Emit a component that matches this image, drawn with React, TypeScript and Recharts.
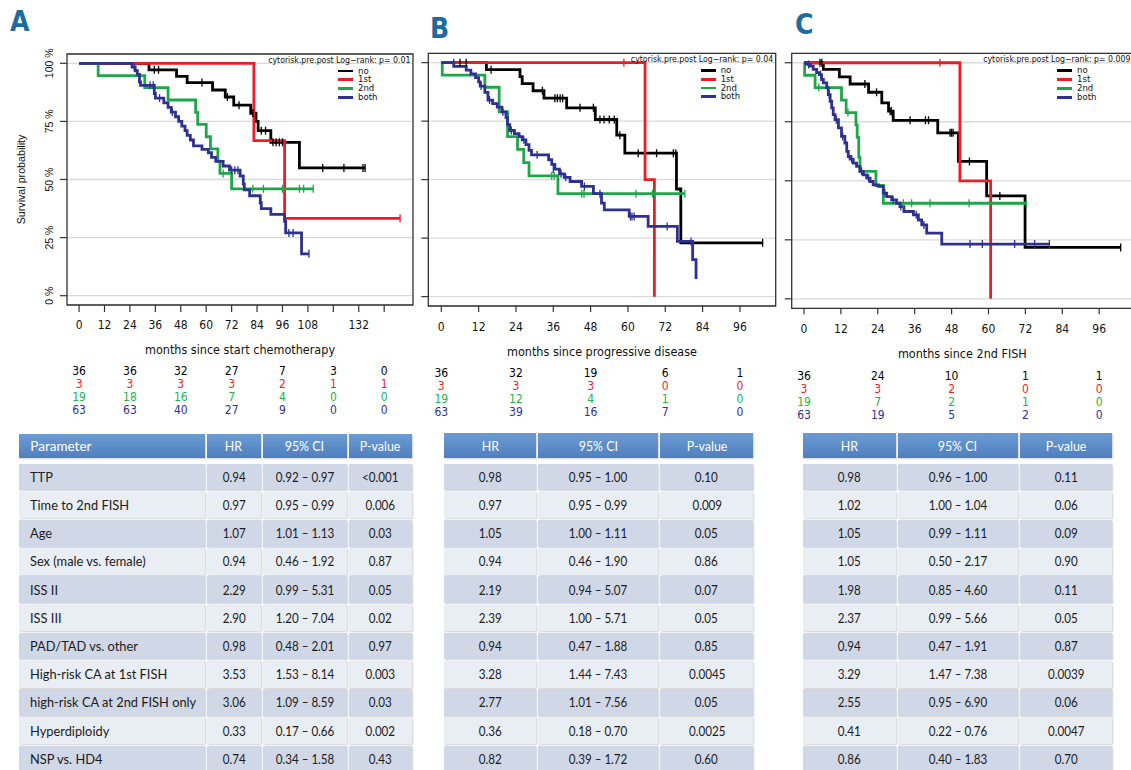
import React from "react";
import {
  ComposedChart,
  Line,
  Scatter,
  XAxis,
  YAxis,
  CartesianGrid,
  ReferenceArea,
  Legend,
} from "recharts";

const NARROW = "'Liberation Sans Narrow', 'Arial Narrow', 'DejaVu Sans Condensed', sans-serif";
const SANS = "'Liberation Sans', Arial, sans-serif";
const TABLE_FONT = "Lato, 'Open Sans', sans-serif";

const GROUPS = ["no", "1st", "2nd", "both"];
const LINE_COLORS = ["#000000", "#ee1d25", "#1fa64a", "#2e3192"];
const RISK_COLORS = ["#000000", "#ee1d25", "#22b24c", "#2e3192"];
const Y_TICKS = [0, 0.25, 0.5, 0.75, 1];
const Y_TICK_LABELS = ["0 %", "25 %", "50 %", "75 %", "100 %"];

// ---- panel A: months since start chemotherapy
const A_TICKS = [0, 12, 24, 36, 48, 60, 72, 84, 96, 108, 120, 132, 144];
const A_TICK_LABELS = ["0", "12", "24", "36", "48", "60", "72", "84", "96", "108", "", "132", ""];
const A_RISK_TIMES = [0, 24, 48, 72, 96, 120, 144];
const A_RISK = [
  [36, 36, 32, 27, 7, 3, 0],
  [3, 3, 3, 3, 2, 1, 1],
  [19, 18, 16, 7, 4, 0, 0],
  [63, 63, 40, 27, 9, 0, 0],
];
const A_NO = [[0, 1], [33, 0.972], [46, 0.944], [51, 0.917], [63, 0.885], [69, 0.855], [73, 0.82], [81, 0.785], [83.5, 0.75], [84.5, 0.71], [90.5, 0.66], [104, 0.55], [135, 0.55]];
const A_NO_CENS = [[35.5, 0.972], [37.5, 0.972], [58, 0.917], [70, 0.855], [75.5, 0.82], [82, 0.785], [86, 0.71], [88, 0.71], [91.5, 0.66], [93, 0.66], [94.5, 0.66], [96, 0.66], [115, 0.55], [125, 0.55], [134, 0.55], [135, 0.55]];
const A_1ST = [[0, 1], [82.5, 0.667], [97, 0.333], [151.5, 0.333]];
const A_1ST_CENS = [[151.5, 0.333]];
const A_2ND = [[0, 1], [9, 0.947], [31, 0.895], [42, 0.842], [55, 0.789], [56, 0.737], [60, 0.684], [62, 0.632], [65.5, 0.579], [66.5, 0.526], [72, 0.46], [110.5, 0.46]];
const A_2ND_CENS = [[68, 0.526], [82, 0.46], [87, 0.46], [96, 0.46], [104, 0.46], [106, 0.46], [110.5, 0.46]];
const A_BOTH = [[0, 1], [25, 0.984], [26.5, 0.968], [27.5, 0.952], [28.5, 0.92], [29, 0.905], [35.5, 0.87], [36, 0.85], [40, 0.83], [42, 0.81], [43.5, 0.79], [45.5, 0.77], [47, 0.75], [48.5, 0.73], [50, 0.71], [51, 0.69], [52.5, 0.67], [54, 0.645], [58, 0.63], [61, 0.615], [62.5, 0.595], [64.5, 0.578], [68, 0.558], [71, 0.54], [76, 0.515], [77.5, 0.48], [78, 0.455], [80.5, 0.43], [85.5, 0.4], [86, 0.375], [90.5, 0.35], [97, 0.32], [97.5, 0.27], [105, 0.18], [108.5, 0.18]];
const A_BOTH_CENS = [[26, 0.984], [33.5, 0.905], [35, 0.905], [38, 0.85], [44, 0.79], [72, 0.54], [73.5, 0.54], [75, 0.54], [99, 0.27], [101, 0.27], [108.5, 0.18]];

// ---- panel B: months since progressive disease
const B_TICKS = [0, 12, 24, 36, 48, 60, 72, 84, 96];
const B_TICK_LABELS = ["0", "12", "24", "36", "48", "60", "72", "84", "96"];
const B_RISK_TIMES = [0, 24, 48, 72, 96];
const B_RISK = [
  [36, 32, 19, 6, 1],
  [3, 3, 3, 0, 0],
  [19, 12, 4, 1, 0],
  [63, 39, 16, 7, 0],
];
const B_NO = [[0, 1], [14.5, 0.97], [25.3, 0.94], [26, 0.91], [29.5, 0.88], [33, 0.848], [40.3, 0.807], [49.5, 0.757], [56.4, 0.69], [59, 0.613], [75.6, 0.46], [77, 0.23], [103.3, 0.23]];
const B_NO_CENS = [[6, 1], [8, 1], [16, 0.97], [32.5, 0.88], [36.5, 0.848], [37.3, 0.848], [38.2, 0.848], [39, 0.848], [44.6, 0.807], [48.9, 0.807], [51, 0.757], [52.3, 0.757], [54, 0.757], [55.6, 0.757], [57.4, 0.69], [63.3, 0.613], [69.2, 0.613], [74.6, 0.613], [75.4, 0.613], [103.3, 0.23]];
const B_1ST = [[0, 1], [65.5, 0.5], [68.5, 0]];
const B_1ST_CENS = [[58.7, 1]];
const B_2ND = [[0, 1], [0.3, 0.947], [14, 0.895], [18.6, 0.79], [21.3, 0.684], [24.5, 0.629], [26.5, 0.573], [28.2, 0.516], [37.5, 0.44], [78.3, 0.44]];
const B_2ND_CENS = [[35.5, 0.516], [36.3, 0.516], [45.2, 0.44], [45.9, 0.44], [62.6, 0.44], [67.9, 0.44], [68.6, 0.44], [78.3, 0.44]];
const B_BOTH = [[0, 1], [4, 0.984], [8, 0.968], [9.5, 0.952], [11, 0.936], [12, 0.918], [12.5, 0.9], [14, 0.873], [15, 0.84], [16.5, 0.825], [18, 0.81], [19.5, 0.79], [20.8, 0.765], [21.3, 0.735], [22, 0.71], [23.5, 0.697], [25, 0.684], [26, 0.67], [27.2, 0.65], [28.2, 0.625], [29, 0.606], [34.5, 0.585], [35.5, 0.565], [36.5, 0.545], [38, 0.525], [39.5, 0.51], [41.4, 0.492], [45.1, 0.471], [48.9, 0.44], [51.5, 0.4], [52.4, 0.371], [60.4, 0.343], [66.5, 0.3], [75.9, 0.236], [80.8, 0.158], [81.9, 0.075]];
const B_BOTH_CENS = [[4, 1], [12.8, 0.9], [15.5, 0.84], [19.8, 0.79], [22.5, 0.71], [26.5, 0.67], [30.8, 0.606], [36, 0.545], [38.5, 0.525], [40, 0.51], [46, 0.471], [51, 0.44], [60.8, 0.343], [61.3, 0.343], [62, 0.343], [72.6, 0.3], [80.3, 0.236]];

// ---- panel C: months since 2nd FISH
const C_TICKS = [0, 12, 24, 36, 48, 60, 72, 84, 96];
const C_TICK_LABELS = ["0", "12", "24", "36", "48", "60", "72", "84", "96"];
const C_RISK_TIMES = [0, 24, 48, 72, 96];
const C_RISK = [
  [36, 24, 10, 1, 1],
  [3, 3, 2, 0, 0],
  [19, 7, 2, 1, 0],
  [63, 19, 5, 2, 0],
];
const C_NO = [[0, 1], [6.3, 0.972], [11.5, 0.94], [15, 0.91], [21, 0.875], [25.3, 0.83], [27.5, 0.795], [29, 0.756], [43.5, 0.703], [50.2, 0.582], [59.4, 0.436], [71.9, 0.218], [103, 0.218]];
const C_NO_CENS = [[5.2, 1], [5.8, 1], [19.8, 0.91], [23.6, 0.875], [28, 0.795], [28.4, 0.795], [34.5, 0.756], [39.5, 0.756], [40.5, 0.756], [47.5, 0.703], [48, 0.703], [48.5, 0.703], [53.8, 0.582], [63.7, 0.436], [103, 0.218]];
const C_1ST = [[0, 1], [50.7, 0.5], [60.7, 0]];
const C_1ST_CENS = [[44.2, 1]];
const C_2ND = [[0, 1], [0.2, 0.947], [3.6, 0.895], [12.2, 0.842], [13.7, 0.789], [16.9, 0.737], [17.3, 0.684], [17.8, 0.6], [18.2, 0.54], [23.4, 0.48], [25.8, 0.405], [72.3, 0.405]];
const C_2ND_CENS = [[4.8, 0.895], [14.3, 0.789], [32.3, 0.405], [35, 0.405], [41, 0.405], [53.7, 0.405], [72.3, 0.405]];
const C_BOTH = [[0, 1], [0.9, 0.993], [2, 0.986], [3, 0.972], [4.1, 0.958], [5, 0.95], [5.7, 0.929], [6.3, 0.915], [7.4, 0.894], [7.9, 0.865], [8.5, 0.837], [9, 0.809], [9.5, 0.78], [10.1, 0.759], [11.2, 0.724], [12.2, 0.688], [13.3, 0.66], [13.9, 0.625], [14.4, 0.603], [15, 0.592], [16, 0.575], [17.1, 0.561], [18.2, 0.54], [19.3, 0.525], [20.4, 0.511], [21.5, 0.497], [22.5, 0.483], [24.2, 0.476], [25.8, 0.448], [26.9, 0.433], [28.5, 0.419], [30.1, 0.405], [31.2, 0.391], [32.5, 0.37], [35.6, 0.356], [37.2, 0.334], [38.3, 0.313], [39.9, 0.278], [44.8, 0.232], [79.8, 0.232]];
const C_BOTH_CENS = [[1.5, 0.993], [5.4, 0.95], [8.2, 0.865], [10.5, 0.759], [12.6, 0.688], [15.5, 0.592], [18.7, 0.54], [21, 0.511], [26.3, 0.448], [29, 0.419], [31.5, 0.391], [36.5, 0.356], [39, 0.313], [54, 0.232], [58, 0.232], [68.5, 0.232], [75, 0.232], [79.8, 0.232]];

// ---- Cox regression tables
const PARAMS = [
  "TTP",
  "Time to 2nd FISH",
  "Age",
  "Sex (male vs. female)",
  "ISS II",
  "ISS III",
  "PAD/TAD vs. other",
  "High-risk CA at 1st FISH",
  "high-risk CA at 2nd FISH only",
  "Hyperdiploidy",
  "NSP vs. HD4",
];
const A_HR = ["0.94", "0.97", "1.07", "0.94", "2.29", "2.90", "0.98", "3.53", "3.06", "0.33", "0.74"];
const A_CI = ["0.92 – 0.97", "0.95 – 0.99", "1.01 – 1.13", "0.46 – 1.92", "0.99 – 5.31", "1.20 – 7.04", "0.48 – 2.01", "1.53 – 8.14", "1.09 – 8.59", "0.17 – 0.66", "0.34 – 1.58"];
const A_P = ["<0.001", "0.006", "0.03", "0.87", "0.05", "0.02", "0.97", "0.003", "0.03", "0.002", "0.43"];
const B_HR = ["0.98", "0.97", "1.05", "0.94", "2.19", "2.39", "0.94", "3.28", "2.77", "0.36", "0.82"];
const B_CI = ["0.95 – 1.00", "0.95 – 0.99", "1.00 – 1.11", "0.46 – 1.90", "0.94 – 5.07", "1.00 – 5.71", "0.47 – 1.88", "1.44 – 7.43", "1.01 – 7.56", "0.18 – 0.70", "0.39 – 1.72"];
const B_P = ["0.10", "0.009", "0.05", "0.86", "0.07", "0.05", "0.85", "0.0045", "0.05", "0.0025", "0.60"];
const C_HR = ["0.98", "1.02", "1.05", "1.05", "1.98", "2.37", "0.94", "3.29", "2.55", "0.41", "0.86"];
const C_CI = ["0.96 – 1.00", "1.00 – 1.04", "0.99 – 1.11", "0.50 – 2.17", "0.85 – 4.60", "0.99 – 5.66", "0.47 – 1.91", "1.47 – 7.38", "0.95 – 6.90", "0.22 – 0.76", "0.40 – 1.83"];
const C_P = ["0.11", "0.06", "0.09", "0.90", "0.11", "0.05", "0.87", "0.0039", "0.06", "0.0047", "0.70"];

const toPts = (arr: number[][]) => arr.map(([x, y]) => ({ x, y }));

const XTick = ({ x, y, payload, ticks, labels }: any) => (
  <text x={x} y={y} dy="0.71em" textAnchor="middle" fontSize={12} fontFamily={NARROW} fill="#111">
    {labels[ticks.indexOf(payload.value)]}
  </text>
);

const RiskTick = ({ x, y, payload, times, row, color }: any) => (
  <text x={x} y={y} dy="0.71em" textAnchor="middle" fontSize={12} fontFamily={NARROW} fill={color}>
    {row[times.indexOf(payload.value)]}
  </text>
);

const YTick = ({ x, y, payload }: any) => (
  <text x={x} y={y} transform={`rotate(-90 ${x} ${y})`} textAnchor="middle" fontSize={10.5} fontFamily={SANS} fill="#111">
    {Y_TICK_LABELS[Y_TICKS.indexOf(payload.value)]}
  </text>
);

const NoTick = () => <g />;

// legend keeps the strata order of the plot (no, 1st, 2nd, both)
const KMLegend = ({ payload }: any) => {
  const items = (payload || [])
    .filter((p: any) => GROUPS.includes(p.value))
    .sort((a: any, b: any) => GROUPS.indexOf(a.value) - GROUPS.indexOf(b.value));
  return (
    <div style={{ fontFamily: NARROW, fontSize: 9.5, color: "#111" }}>
      {items.map((p: any) => (
        <div key={p.value} style={{ display: "flex", alignItems: "center", height: 8.8 }}>
          <div style={{ width: 15, height: 2.8, background: p.color, marginRight: 5 }} />
          <span style={{ lineHeight: "8.8px" }}>{p.value}</span>
        </div>
      ))}
    </div>
  );
};

interface PanelProps {
  left: number;
  top: number;
  width: number;
  height: number;
  margin: { top: number; right: number; bottom: number; left: number };
  yWidth: number;
  yLabels: boolean;
  domain: [number, number];
  ticks: number[];
  tickLabels: string[];
  tickSize: number;
  tickMargin: number;
  axisHeight: number;
  axisTitle: string;
  titleOffset: number;
  riskTimes: number[];
  risk: number[][];
  riskPitch: number;
  riskMargin: number;
  curves: number[][][];
  censors: number[][][];
  note: string;
  legendLeft: number;
  legendTop: number;
}

function KMPanel(p: PanelProps) {
  return (
    <div style={{ position: "absolute", left: p.left, top: p.top }}>
      <ComposedChart width={p.width} height={p.height} margin={p.margin}>
        <CartesianGrid xAxisId="main" vertical={false} stroke="#dadada" strokeWidth={1.3} />
        <XAxis
          xAxisId="main"
          type="number"
          dataKey="x"
          domain={p.domain}
          allowDataOverflow
          ticks={p.ticks}
          interval={0}
          axisLine={false}
          tickLine={{ stroke: "#333", strokeWidth: 1.2 }}
          tickSize={p.tickSize}
          tickMargin={p.tickMargin}
          height={p.axisHeight}
          tick={<XTick ticks={p.ticks} labels={p.tickLabels} />}
          label={{
            value: p.axisTitle,
            position: "insideBottom",
            offset: p.titleOffset,
            fill: "#111",
            fontSize: 12.5,
            fontFamily: NARROW,
          }}
        />
        {p.risk.map((row, r) => (
          <XAxis
            key={`risk${r}`}
            xAxisId={`risk${r}`}
            type="number"
            dataKey="x"
            domain={p.domain}
            allowDataOverflow
            ticks={p.riskTimes}
            interval={0}
            axisLine={false}
            tickLine={false}
            tickSize={0}
            tickMargin={p.riskMargin}
            height={p.riskPitch}
            tick={<RiskTick times={p.riskTimes} row={row} color={RISK_COLORS[r]} />}
          />
        ))}
        <YAxis
          type="number"
          dataKey="y"
          domain={[-0.04, 1.04]}
          allowDataOverflow
          ticks={Y_TICKS}
          interval={0}
          width={p.yWidth}
          axisLine={false}
          tickLine={{ stroke: "#333", strokeWidth: 1.2 }}
          tickSize={7}
          tickMargin={7}
          tick={p.yLabels ? <YTick /> : <NoTick />}
          label={
            p.yLabels
              ? {
                  value: "Survival probability",
                  angle: -90,
                  position: "insideLeft",
                  offset: 21,
                  fill: "#111",
                  fontSize: 10.7,
                  fontFamily: SANS,
                  style: { textAnchor: "middle" },
                }
              : undefined
          }
        />
        <ReferenceArea
          xAxisId="main"
          x1={p.domain[0]}
          x2={p.domain[1]}
          y1={-0.04}
          y2={1.04}
          fill="none"
          fillOpacity={0}
          stroke="#333"
          strokeWidth={1.3}
          ifOverflow="visible"
          label={{
            value: p.note,
            position: "insideTopRight",
            offset: 2.5,
            fill: "#111",
            fontSize: 8.7,
            fontFamily: NARROW,
          }}
        />
        {p.curves.map((c, i) => (
          <Line
            key={GROUPS[i]}
            xAxisId="main"
            data={toPts(c)}
            dataKey="y"
            name={GROUPS[i]}
            type="stepAfter"
            stroke={LINE_COLORS[i]}
            strokeWidth={2.8}
            dot={false}
            activeDot={false}
            isAnimationActive={false}
          />
        ))}
        {p.censors.map((c, i) => (
          <Scatter
            key={`cens${i}`}
            xAxisId="main"
            data={toPts(c)}
            dataKey="y"
            legendType="none"
            isAnimationActive={false}
            shape={(s: any) => (
              <line x1={s.cx} x2={s.cx} y1={s.cy - 4} y2={s.cy + 4} stroke={LINE_COLORS[i]} strokeWidth={1.3} />
            )}
          />
        ))}
        <Legend
          layout="vertical"
          align="center"
          verticalAlign="middle"
          wrapperStyle={{ left: p.legendLeft, top: p.legendTop, width: "auto", height: "auto" }}
          content={<KMLegend />}
        />
      </ComposedChart>
    </div>
  );
}

const ROW_TOP = 463.5;
const ROW_PITCH = 28.2;
const ROW_H = 26.8;

function Cell({ left, top, width, height, bg, color, text, align, scale }: any) {
  return (
    <div
      style={{
        position: "absolute",
        left,
        top,
        width,
        height,
        background: bg,
        display: "flex",
        alignItems: "center",
        justifyContent: align === "left" ? "flex-start" : "center",
        boxSizing: "border-box",
        paddingLeft: align === "left" ? 11 : 0,
        fontFamily: TABLE_FONT,
        fontSize: 13.5,
        color,
        whiteSpace: "nowrap",
        boxShadow: "1px 1px 1.5px rgba(0,0,0,0.18)",
      }}
    >
      <span
        style={{
          display: "inline-block",
          transform: `scaleX(${scale})`,
          transformOrigin: align === "left" ? "left center" : "center",
        }}
      >
        {text}
      </span>
    </div>
  );
}

function StatsTable({ edges, headers, columns, headerTop, headerBottom, firstLeft }: any) {
  const cells: any[] = [];
  headers.forEach((h: string, c: number) => {
    cells.push(
      <Cell
        key={`h${c}`}
        left={edges[c] + 1}
        top={headerTop}
        width={edges[c + 1] - edges[c] - 2}
        height={headerBottom - headerTop}
        bg="linear-gradient(#6c9bd4, #4f80bd)"
        color="#ffffff"
        text={h}
        align={firstLeft && c === 0 ? "left" : "center"}
        scale={firstLeft && c === 0 ? 1 : 0.92}
      />
    );
  });
  columns[0].forEach((_: string, r: number) => {
    columns.forEach((col: string[], c: number) => {
      const isParam = firstLeft && c === 0;
      cells.push(
        <Cell
          key={`r${r}c${c}`}
          left={edges[c] + 1}
          top={ROW_TOP + r * ROW_PITCH}
          width={edges[c + 1] - edges[c] - 2}
          height={ROW_H}
          bg={r % 2 === 0 ? "#d0d8e8" : "#e9edf4"}
          color="#1b1b1b"
          text={col[r]}
          align={isParam ? "left" : "center"}
          scale={isParam ? 0.95 : 0.86}
        />
      );
    });
  });
  return <>{cells}</>;
}

const LETTER_STYLE: React.CSSProperties = {
  position: "absolute",
  fontFamily: NARROW,
  fontWeight: "bold",
  fontSize: 28,
  lineHeight: "28px",
  color: "#1d6c9e",
};

export default function App() {
  return (
    <div
      style={{
        position: "absolute",
        left: 0,
        top: 0,
        width: 1131,
        height: 770,
        overflow: "hidden",
        background: "#ffffff",
      }}
    >
      <div style={{ ...LETTER_STYLE, left: 10, top: 8 }}>A</div>
      <div style={{ ...LETTER_STYLE, left: 430, top: 14.5 }}>B</div>
      <div style={{ ...LETTER_STYLE, left: 795, top: 11 }}>C</div>

      <KMPanel
        left={0}
        top={40}
        width={420}
        height={382.6}
        margin={{ top: 14, right: 7, bottom: 16, left: 0 }}
        yWidth={67}
        yLabels
        domain={[-5.7, 157.6]}
        ticks={A_TICKS}
        tickLabels={A_TICK_LABELS}
        tickSize={7}
        tickMargin={8.2}
        axisHeight={50}
        axisTitle="months since start chemotherapy"
        titleOffset={1.4}
        riskTimes={A_RISK_TIMES}
        risk={A_RISK}
        riskPitch={12.9}
        riskMargin={11.9}
        curves={[A_NO, A_1ST, A_2ND, A_BOTH]}
        censors={[A_NO_CENS, A_1ST_CENS, A_2ND_CENS, A_BOTH_CENS]}
        note="cytorisk.pre.post  Log−rank: p= 0.01"
        legendLeft={338}
        legendTop={26.6}
      />
      <KMPanel
        left={418}
        top={40}
        width={362}
        height={383.2}
        margin={{ top: 13.3, right: 4.3, bottom: 16, left: 0 }}
        yWidth={10.3}
        yLabels={false}
        domain={[-4.18, 107.5]}
        ticks={B_TICKS}
        tickLabels={B_TICK_LABELS}
        tickSize={6}
        tickMargin={10.2}
        axisHeight={50}
        axisTitle="months since progressive disease"
        titleOffset={0.4}
        riskTimes={B_RISK_TIMES}
        risk={B_RISK}
        riskPitch={12.8}
        riskMargin={12.9}
        curves={[B_NO, B_1ST, B_2ND, B_BOTH]}
        censors={[B_NO_CENS, B_1ST_CENS, B_2ND_CENS, B_BOTH_CENS]}
        note="cytorisk.pre.post  Log−rank: p= 0.04"
        legendLeft={282.7}
        legendTop={26}
      />
      <KMPanel
        left={780}
        top={40}
        width={353}
        height={386.3}
        margin={{ top: 13.3, right: 0, bottom: 16, left: 0 }}
        yWidth={11.7}
        yLabels={false}
        domain={[-4, 107]}
        ticks={C_TICKS}
        tickLabels={C_TICK_LABELS}
        tickSize={6}
        tickMargin={9.9}
        axisHeight={50}
        axisTitle="months since 2nd FISH"
        titleOffset={0.7}
        riskTimes={C_RISK_TIMES}
        risk={C_RISK}
        riskPitch={13}
        riskMargin={12.9}
        curves={[C_NO, C_1ST, C_2ND, C_BOTH]}
        censors={[C_NO_CENS, C_1ST_CENS, C_2ND_CENS, C_BOTH_CENS]}
        note="cytorisk.pre.post  Log−rank: p= 0.009"
        legendLeft={277}
        legendTop={26.4}
      />

      <StatsTable
        edges={[18.3, 206, 261.7, 347.7, 413]}
        headers={["Parameter", "HR", "95% CI", "P-value"]}
        columns={[PARAMS, A_HR, A_CI, A_P]}
        headerTop={434}
        headerBottom={458.3}
        firstLeft
      />
      <StatsTable
        edges={[442.7, 537.3, 659.3, 754.3]}
        headers={["HR", "95% CI", "P-value"]}
        columns={[B_HR, B_CI, B_P]}
        headerTop={433.3}
        headerBottom={458.3}
        firstLeft={false}
      />
      <StatsTable
        edges={[801.7, 896.7, 1018.7, 1113.3]}
        headers={["HR", "95% CI", "P-value"]}
        columns={[C_HR, C_CI, C_P]}
        headerTop={433.3}
        headerBottom={458.3}
        firstLeft={false}
      />
    </div>
  );
}
